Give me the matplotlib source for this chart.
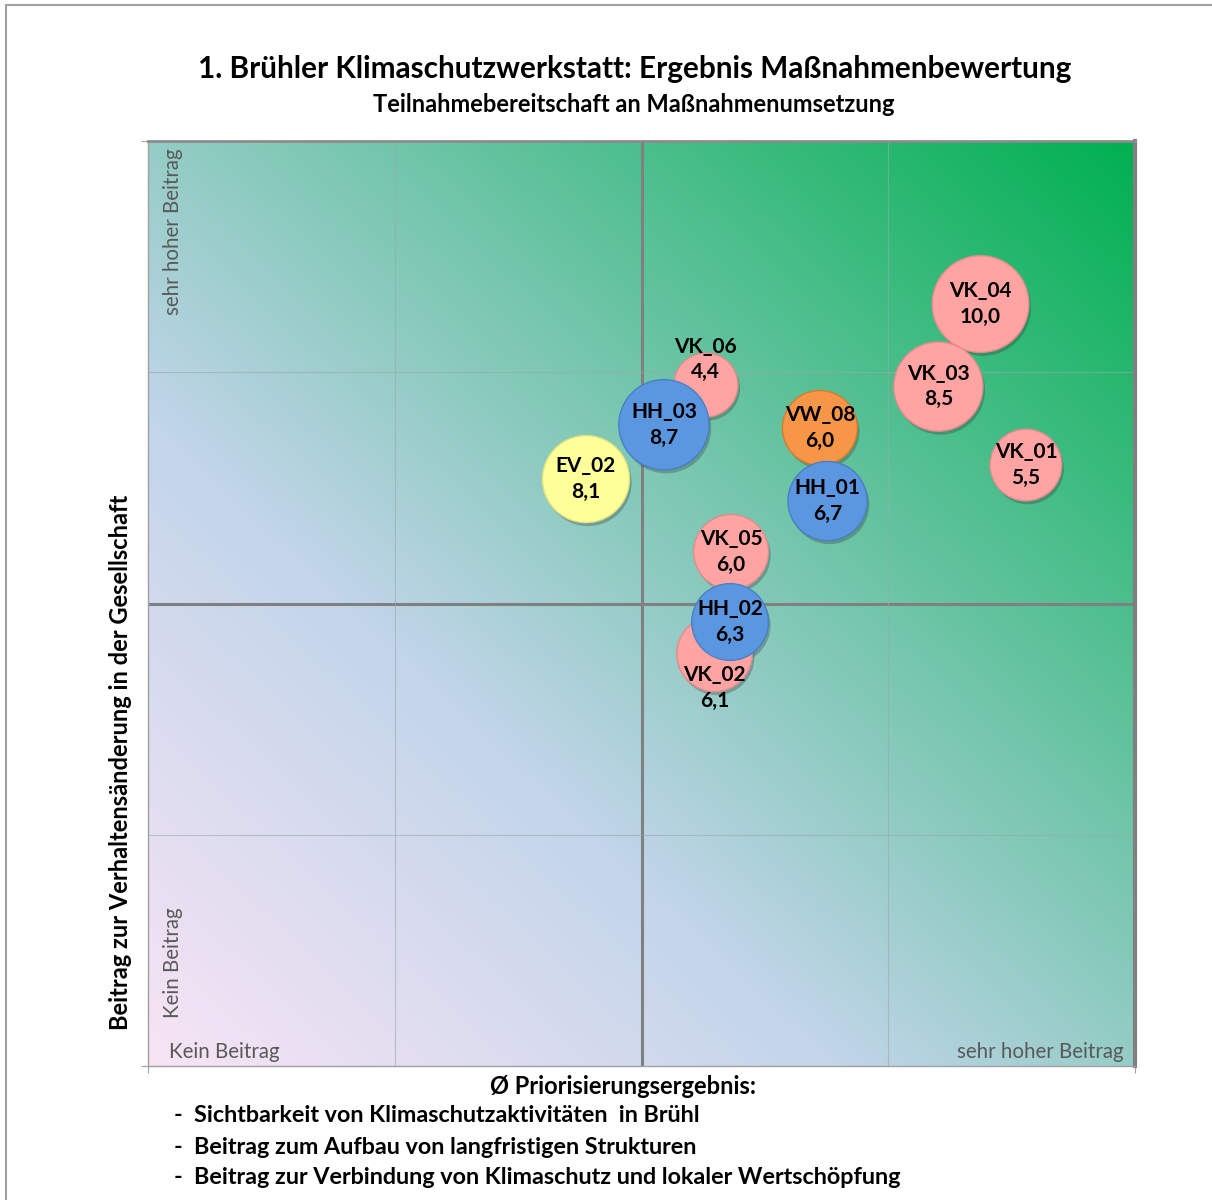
import numpy as np
import matplotlib
matplotlib.use('Agg')
import matplotlib.pyplot as plt
import matplotlib.patheffects as pe
from matplotlib.patches import Rectangle

plt.rcParams['font.family'] = ['Lato', 'DejaVu Sans']

# Daten: Massnahmen, Position (Prioritaet / Verhaltensbeitrag), Bubble-Wert
namen  = ['VK_04', 'VK_03', 'VK_01', 'VK_06', 'VK_05', 'VK_02', 'VW_08', 'EV_02', 'HH_03', 'HH_01', 'HH_02']
x_wert = [3.374, 3.203, 3.558, 2.261, 2.363, 2.296, 2.723, 1.775, 2.091, 2.754, 2.359]
y_wert = [3.295, 2.938, 2.599, 2.945, 2.223, 1.782, 2.759, 2.538, 2.773, 2.443, 1.920]
werte  = [10.0, 8.5, 5.5, 4.4, 6.0, 6.1, 6.0, 8.1, 8.7, 6.7, 6.3]
farben = ['#FFA3A3'] * 6 + ['#F79646', '#FFFF99', '#5B96E0', '#5B96E0', '#5B96E0']
rand   = ['#E08C8C'] * 6 + ['#D97A2E', '#E0E080', '#4A7FC4', '#4A7FC4', '#4A7FC4']
# Label-Verschiebung (in Bubble-Radien) fuer VK_06 und VK_02
label_dy = [0, 0, 0, -0.8, 0, 0.9, 0, 0, 0, 0, 0]

titel = '1. Brühler Klimaschutzwerkstatt: Ergebnis Maßnahmenbewertung'
untertitel = 'Teilnahmebereitschaft an Maßnahmenumsetzung'
y_titel = 'Beitrag zur Verhaltensänderung in der Gesellschaft'
x_titel = 'Ø Priorisierungsergebnis:'
x_punkte = ['-  Sichtbarkeit von Klimaschutzaktivitäten  in Brühl',
            '-  Beitrag zum Aufbau von langfristigen Strukturen',
            '-  Beitrag zur Verbindung von Klimaschutz und lokaler Wertschöpfung']

# Hintergrund-Verlauf: unten links rosa -> hellblau -> oben rechts gruen
verlauf_pos = [0.0, 0.35, 1.0]
verlauf_rgb = [(248, 228, 245), (194, 213, 234), (0, 176, 80)]

fig = plt.figure(figsize=(12.12, 12.0), dpi=100)
fig.add_artist(Rectangle((6 / 1212, -0.1), 1.2, 1 - 5 / 1200 + 0.1, transform=fig.transFigure,
                         fill=False, ec='#A0A0A0', lw=1.5))
ax = fig.add_axes([148 / 1212, 1 - 1066 / 1200, 987 / 1212, 925 / 1200])
ax.set_xlim(0, 4)
ax.set_ylim(0, 4)

gx, gy = np.meshgrid(np.linspace(0, 1, 300), np.linspace(0, 1, 300))
t = (gx + gy) / 2
img = np.zeros(t.shape + (3,))
for k in range(3):
    img[..., k] = np.interp(t, verlauf_pos, [c[k] for c in verlauf_rgb]) / 255
ax.imshow(img, extent=[0, 4, 0, 4], origin='lower', aspect='auto', zorder=0)

# Gitter
ax.set_xticks([0, 4])
ax.set_yticks([0, 4])
ax.set_xticks([1, 3], minor=True)
ax.set_yticks([1, 3], minor=True)
ax.tick_params(which='both', labelbottom=False, labelleft=False)
ax.tick_params(which='major', length=5, color='#A0A0A0')
ax.tick_params(which='minor', length=0)
ax.grid(which='minor', color='#9AA9A9', lw=0.8, alpha=0.6, zorder=1)
ax.axvline(2, color='#808080', lw=2.2, zorder=1)
ax.axhline(2, color='#808080', lw=2.2, zorder=1)
for s in ['left', 'bottom']:
    ax.spines[s].set_color('#A0A0A0')
    ax.spines[s].set_linewidth(1)
ax.spines['top'].set_color('#8C8C8C')
ax.spines['top'].set_linewidth(2)
ax.spines['right'].set_color('#808080')
ax.spines['right'].set_linewidth(3)

# Bubbles (Flaeche proportional zum Wert)
groesse = [485 * w for w in werte]
radius_pt = [np.sqrt(s) / 2 for s in groesse]
sc = ax.scatter(x_wert, y_wert, s=groesse, c=farben, edgecolors=rand, linewidths=1.0, zorder=3)
sc.set_path_effects([pe.SimplePatchShadow(offset=(1.5, -2.5), shadow_rgbFace='#303030', alpha=0.3), pe.Normal()])

for i, n in enumerate(namen):
    lbl = n + '\n' + f'{werte[i]:.1f}'.replace('.', ',')
    ax.annotate(lbl, (x_wert[i], y_wert[i]), xytext=(0, -label_dy[i] * radius_pt[i]),
                textcoords='offset points', ha='center', va='center', fontsize=15,
                fontweight='bold', color='black', linespacing=1.35, zorder=5)

# Beschriftungen im Diagramm
grau = '#595959'
ax.text(0.015, 0.992, 'sehr hoher Beitrag', transform=ax.transAxes, rotation=90, ha='left', va='top',
        fontsize=14.8, color=grau)
ax.text(0.015, 0.052, 'Kein Beitrag', transform=ax.transAxes, rotation=90, ha='left', va='bottom',
        fontsize=14.8, color=grau)
ax.text(0.021, 0.004, 'Kein Beitrag', transform=ax.transAxes, ha='left', va='bottom',
        fontsize=14.8, color=grau)
ax.text(0.988, 0.004, 'sehr hoher Beitrag', transform=ax.transAxes, ha='right', va='bottom',
        fontsize=14.8, color=grau)

fig.text(635 / 1212, 1 - 69 / 1200, titel, ha='center', va='center', fontsize=21.4, fontweight='bold')
fig.text(634 / 1212, 1 - 104 / 1200, untertitel, ha='center', va='center', fontsize=17, fontweight='bold')
fig.text(120 / 1212, 1 - 762 / 1200, y_titel, rotation=90, ha='center', va='center', fontsize=17,
         fontweight='bold')
fig.text(623 / 1212, 1 - 1086 / 1200, x_titel, ha='center', va='center', fontsize=17, fontweight='bold')
for i, p in enumerate(x_punkte):
    fig.text(174 / 1212, 1 - (1116 + 31 * i) / 1200, p, ha='left', va='center', fontsize=16.8,
             fontweight='bold')

fig.savefig('out.png', dpi=100)
